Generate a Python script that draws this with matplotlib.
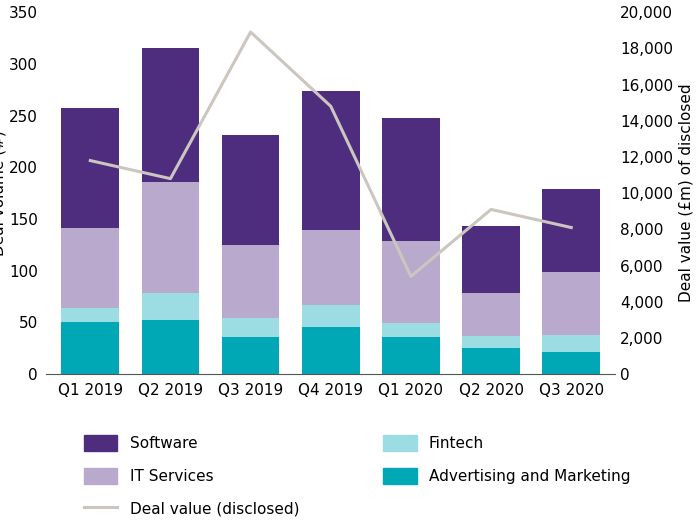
import matplotlib
matplotlib.use("Agg")
import matplotlib.pyplot as plt
from matplotlib.lines import Line2D
from matplotlib.patches import Patch
import numpy as np

quarters = ["Q1 2019", "Q2 2019", "Q3 2019", "Q4 2019", "Q1 2020", "Q2 2020", "Q3 2020"]
advertising = [50, 52, 36, 46, 36, 25, 21]
fintech = [14, 26, 18, 21, 13, 12, 17]
it_services = [77, 108, 71, 72, 80, 41, 61]
software = [116, 129, 106, 135, 119, 65, 80]
deal_value = [11800, 10800, 18900, 14800, 5400, 9100, 8100]

c_soft, c_it, c_fin, c_adv, c_line = "#4e2d7f", "#b9aacd", "#9bdde3", "#00a8b5", "#cbc6bf"
plt.rcParams["font.family"] = "DejaVu Sans"
fig = plt.figure(figsize=(7.0, 5.27), dpi=100)
ax = fig.add_axes([0.066, 0.29, 0.813, 0.687])
x = np.arange(len(quarters))
w = 0.72
b = np.zeros(len(x))
for vals, c in [(advertising, c_adv), (fintech, c_fin), (it_services, c_it), (software, c_soft)]:
    ax.bar(x, vals, w, bottom=b, color=c, zorder=2)
    b += np.array(vals)
ax.set_ylim(0, 350)
ax.set_xlim(-0.55, 6.55)
ax.set_yticks(range(0, 351, 50))
ax.set_xticks(x)
ax.set_xticklabels(quarters)
ax.set_ylabel("Deal volume (#)", fontsize=11, labelpad=2)
for s in ["top", "right", "left"]:
    ax.spines[s].set_visible(False)
ax.spines["bottom"].set_color("#555555")
ax.tick_params(length=0, labelsize=11, pad=6)

ax2 = ax.twinx()
ax2.plot(x, deal_value, color=c_line, lw=2.2, zorder=3)
ax2.set_ylim(0, 20000)
ax2.set_yticks(range(0, 20001, 2000))
ax2.set_yticklabels([f"{v:,}" for v in range(0, 20001, 2000)])
ax2.set_ylabel("Deal value (£m) of disclosed", fontsize=11)
for s in ax2.spines.values():
    s.set_visible(False)
ax2.tick_params(length=0, labelsize=11)

handles = [Patch(color=c_soft, label="Software"), Patch(color=c_it, label="IT Services"),
           Line2D([], [], color=c_line, lw=2.2, label="Deal value (disclosed)"),
           Patch(color=c_fin, label="Fintech"), Patch(color=c_adv, label="Advertising and Marketing")]
fig.legend(handles=handles, loc="upper left", bbox_to_anchor=(0.1, 0.2), ncol=2,
           frameon=False, fontsize=11, handlelength=2.2, handleheight=1.2,
           columnspacing=5.5, labelspacing=1.1)
fig.savefig("out.png", dpi=100)
